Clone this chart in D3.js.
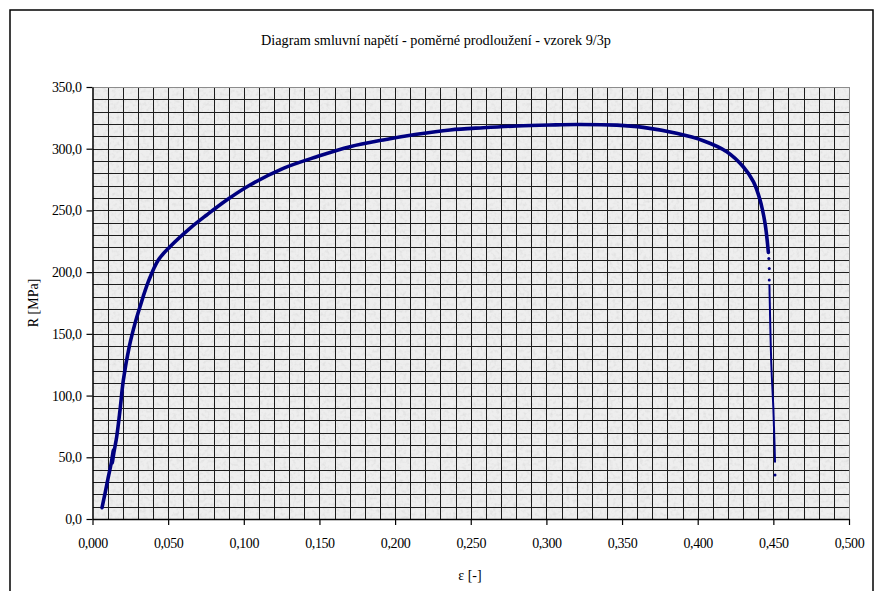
<!DOCTYPE html>
<html>
<head>
<meta charset="utf-8">
<script src="https://cdn.jsdelivr.net/npm/d3@7"></script>
<style>
  html, body { margin: 0; padding: 0; background: #fff; }
  svg { display: block; }
  text { font-family: "Liberation Serif", "DejaVu Serif", serif; fill: #000; }
</style>
</head>
<body>
<svg id="chart" width="880" height="591"></svg>
<script>
// ---- data ----
const titleText = "Diagram smluvní napětí - poměrné prodloužení - vzorek 9/3p";
const xLabel = "ε [-]";
const yLabel = "R [MPa]";
const xTicks = [0, 0.05, 0.10, 0.15, 0.20, 0.25, 0.30, 0.35, 0.40, 0.45, 0.50];
const yTicks = [0, 50, 100, 150, 200, 250, 300, 350];

// main curve: strain [-] and stress [MPa]
const strain = [0.0063, 0.0083, 0.0105, 0.0125, 0.0138, 0.0130, 0.0141, 0.0160, 0.0182, 0.0204,
  0.0243, 0.0281, 0.0314, 0.0369, 0.0435, 0.0512, 0.0644, 0.0755, 0.0887, 0.1041,
  0.1261, 0.1482, 0.1702, 0.1922, 0.2143, 0.2363, 0.2583, 0.2804, 0.3024, 0.3200,
  0.3465, 0.3640, 0.3860, 0.4037, 0.4192, 0.4301, 0.4368, 0.4412, 0.4445, 0.4467];
const stress = [9.2, 20.8, 34.3, 46.0, 56.0, 45.0, 53.5, 66.7, 88.3, 112.6,
  139.6, 158.5, 172.0, 192.3, 209.8, 220.6, 235.5, 246.3, 258.4, 270.6,
  284.1, 293.5, 301.6, 307.1, 311.7, 315.2, 317.0, 318.4, 319.2, 319.6,
  319.1, 317.3, 312.5, 306.5, 297.6, 285.4, 273.3, 258.4, 239.6, 216.0];

// fracture tail: dense thin part
const tailStrain = [0.4474, 0.4477, 0.4480, 0.4483, 0.4486, 0.4490, 0.4496, 0.4500, 0.4504, 0.4508, 0.4511];
const tailStress = [189.6, 172.0, 155.0, 140.0, 127.0, 115.0, 100.0, 90.0, 75.0, 60.0, 46.4];
// isolated points
const dotStrain = [0.4470, 0.4473, 0.4473, 0.4511];
const dotStress = [211.0, 203.0, 193.6, 35.6];

// ---- layout ----
const plot = { left: 92.5, right: 849, top: 87, bottom: 519 };
const svg = d3.select("#chart");

const x = d3.scaleLinear().domain([0, 0.5]).range([plot.left, plot.right]);
const y = d3.scaleLinear().domain([0, 350]).range([plot.bottom, plot.top]);
const comma = f => v => d3.format(f)(v).replace(".", ",");

// outer chart frame
svg.append("rect")
  .attr("x", 10).attr("y", 10).attr("width", 863).attr("height", 600)
  .attr("fill", "#fff").attr("stroke", "#000").attr("stroke-width", 1.5);

// texture for plot area
const defs = svg.append("defs");
const filt = defs.append("filter").attr("id", "grain")
  .attr("x", 0).attr("y", 0).attr("width", "100%").attr("height", "100%");
filt.append("feTurbulence").attr("type", "fractalNoise")
  .attr("baseFrequency", 0.3).attr("numOctaves", 2).attr("seed", 7).attr("result", "n");
filt.append("feColorMatrix").attr("in", "n").attr("type", "matrix")
  .attr("values", "0 0 0 0 0  0 0 0 0 0  0 0 0 0 0  0 0 0 0.5 -0.22");
filt.append("feComposite").attr("in2", "SourceGraphic").attr("operator", "in");

svg.append("rect")
  .attr("x", plot.left).attr("y", plot.top)
  .attr("width", plot.right - plot.left).attr("height", plot.bottom - plot.top)
  .attr("fill", "#eeeeee");
svg.append("rect")
  .attr("x", plot.left).attr("y", plot.top)
  .attr("width", plot.right - plot.left).attr("height", plot.bottom - plot.top)
  .attr("fill", "#eeeeee").attr("filter", "url(#grain)").attr("opacity", 0.25);

// gridlines
const gx = d3.range(1, 50).map(i => i / 100);
const gy = d3.range(10, 350, 10);
const grid = svg.append("g").attr("shape-rendering", "crispEdges");
grid.selectAll("line.v").data(gx).join("line")
  .attr("x1", d => Math.round(x(d)) + 0.5).attr("x2", d => Math.round(x(d)) + 0.5)
  .attr("y1", plot.top).attr("y2", plot.bottom)
  .attr("stroke", "#1c1c1c").attr("stroke-width", 1);
grid.selectAll("line.h").data(gy).join("line")
  .attr("y1", d => Math.round(y(d)) + 0.5).attr("y2", d => Math.round(y(d)) + 0.5)
  .attr("x1", plot.left).attr("x2", plot.right)
  .attr("stroke", "#1c1c1c").attr("stroke-width", 1);
// plot border (top / right gray)
grid.append("line").attr("x1", plot.left).attr("x2", plot.right)
  .attr("y1", plot.top + 0.5).attr("y2", plot.top + 0.5).attr("stroke", "#8c8c8c");
grid.append("line").attr("x1", plot.right + 0.5).attr("x2", plot.right + 0.5)
  .attr("y1", plot.top).attr("y2", plot.bottom).attr("stroke", "#8c8c8c");

// axes
const xAxis = d3.axisBottom(x).tickValues(xTicks).tickFormat(comma(".3f"))
  .tickSizeInner(6).tickSizeOuter(0).tickPadding(13);
const yAxis = d3.axisLeft(y).tickValues(yTicks).tickFormat(comma(".1f"))
  .tickSizeInner(6).tickSizeOuter(0).tickPadding(5);

const gX = svg.append("g").attr("transform", `translate(0,${plot.bottom})`).call(xAxis);
const gY = svg.append("g").attr("transform", `translate(${plot.left},0)`).call(yAxis);
[gX, gY].forEach(g => {
  g.select(".domain").attr("stroke", "#000").attr("stroke-width", 1.5);
  g.selectAll(".tick line").attr("stroke", "#000").attr("stroke-width", 1.2);
  g.selectAll("text").attr("font-family", "Liberation Serif").attr("font-size", 14)
    .attr("fill", "#000").attr("letter-spacing", "-0.4px");
});

// curve
const pts = strain.map((s, i) => [s, stress[i]]);
const smooth = d3.line().x(d => x(d[0])).y(d => y(d[1])).curve(d3.curveCatmullRom.alpha(0.5));
const straight = d3.line().x(d => x(d[0])).y(d => y(d[1]));
svg.append("path").datum(pts).attr("d", smooth)
  .attr("fill", "none").attr("stroke", "#000080").attr("stroke-width", 3.6)
  .attr("stroke-linejoin", "round").attr("stroke-linecap", "round");

const tail = tailStrain.map((s, i) => [s, tailStress[i]]);
svg.append("path").datum(tail).attr("d", straight)
  .attr("fill", "none").attr("stroke", "#000080").attr("stroke-width", 2)
  .attr("stroke-linecap", "round");

svg.selectAll("circle.dot").data(dotStrain.map((s, i) => [s, dotStress[i]])).join("circle")
  .attr("cx", d => x(d[0])).attr("cy", d => y(d[1])).attr("r", 1.5).attr("fill", "#000080");

// titles
svg.append("text").attr("x", 436).attr("y", 45).attr("text-anchor", "middle")
  .attr("font-size", 14).attr("textLength", 350).attr("lengthAdjust", "spacingAndGlyphs")
  .text(titleText);
svg.append("text").attr("x", 470).attr("y", 580).attr("text-anchor", "middle")
  .attr("font-size", 14).text(xLabel);
svg.append("text").attr("transform", `translate(38,${(plot.top + plot.bottom) / 2}) rotate(-90)`)
  .attr("text-anchor", "middle").attr("font-size", 14).text(yLabel);
</script>
</body>
</html>
